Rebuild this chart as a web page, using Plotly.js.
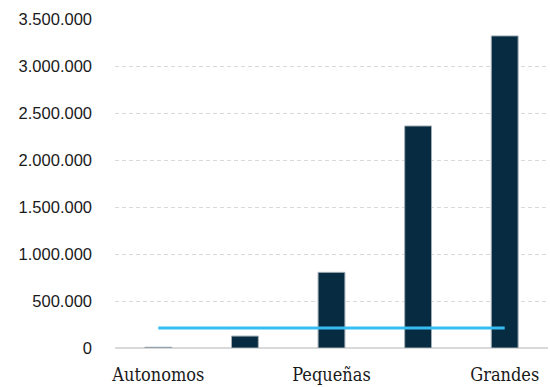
<!DOCTYPE html>
<html>
<head>
<meta charset="utf-8">
<script src="https://cdn.plot.ly/plotly-3.0.1.min.js"></script>
<style>
  html, body { margin: 0; padding: 0; background: #fff; }
  #chart { width: 550px; height: 387px; }
</style>
</head>
<body>
<div id="chart"></div>
<script>
// Company size categories and their totals
const categories = ["Autonomos", "Micro", "Pequeñas", "Medianas", "Grandes"];
const totals = [8000, 127000, 805000, 2362000, 3320000];
// Reference level drawn as a flat line across the categories
const referenceLevel = [213000, 213000, 213000, 213000, 213000];
// Labels shown on the category axis
const shownLabels = ["Autonomos", "Pequeñas", "Grandes"];
const yTicks = [0, 500000, 1000000, 1500000, 2000000, 2500000, 3000000, 3500000];

const catFont = { family: "DejaVu Serif Condensed, DejaVu Serif, serif", size: 18, color: "#1a1a1a" };
const numFont = { family: "Liberation Sans, Arial, sans-serif", size: 16.5, color: "#1a1a1a" };

const traces = [
  {
    type: "bar",
    x: categories,
    y: totals,
    width: 0.31,
    marker: { color: "#072b40", line: { color: "#a3adb5", width: 1 } },
    hoverinfo: "x+y"
  },
  {
    type: "scatter",
    mode: "lines",
    x: categories,
    y: referenceLevel,
    line: { color: "#36bdf2", width: 3 },
    hoverinfo: "y"
  }
];

const layout = {
  width: 550,
  height: 387,
  margin: { l: 115, r: 2, t: 19, b: 39 },
  paper_bgcolor: "#ffffff",
  plot_bgcolor: "#ffffff",
  showlegend: false,
  separators: ",.",
  font: catFont,
  xaxis: {
    type: "category",
    tickvals: shownLabels,
    ticktext: shownLabels,
    showgrid: false,
    showline: false,
    ticks: "",
    zeroline: false,
    ticklabelstandoff: 14,
    tickfont: catFont
  },
  yaxis: {
    range: [0, 3500000],
    tickvals: yTicks,
    tickformat: ",d",
    showgrid: true,
    gridcolor: "#d9d9d9",
    griddash: "4px,3px",
    gridwidth: 1,
    zeroline: true,
    zerolinecolor: "#d9d9d9",
    zerolinewidth: 2,
    showline: false,
    ticks: "",
    ticklabelstandoff: 22,
    tickfont: numFont
  }
};

Plotly.newPlot("chart", traces, layout, { displayModeBar: false, staticPlot: true });
</script>
</body>
</html>
